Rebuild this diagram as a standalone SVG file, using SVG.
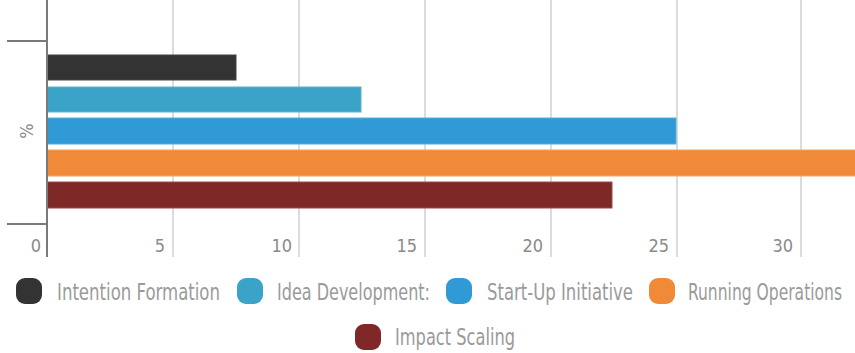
<svg xmlns="http://www.w3.org/2000/svg" width="855" height="353" viewBox="0 0 855 353">
<style>
.grid{stroke:#dcdcdc;stroke-width:2}
.axis{stroke:#7a7a7a;stroke-width:2}
.tick{font-family:"Liberation Sans Narrow","DejaVu Sans Condensed","Liberation Sans",sans-serif;font-size:18px;fill:#8a8a8a;text-anchor:end}
.leg{font-family:"Liberation Sans Narrow","DejaVu Sans Condensed","Liberation Sans",sans-serif;font-size:23px;fill:#9a9a9a}
.bar{stroke-width:1}
</style>
<rect width="855" height="353" fill="#ffffff"/>
<g id="grid">
<line class="grid" x1="173" y1="0" x2="173" y2="257"/>
<line class="grid" x1="299" y1="0" x2="299" y2="257"/>
<line class="grid" x1="425" y1="0" x2="425" y2="257"/>
<line class="grid" x1="551" y1="0" x2="551" y2="257"/>
<line class="grid" x1="677" y1="0" x2="677" y2="257"/>
<line class="grid" x1="801" y1="0" x2="801" y2="257"/>
</g>
<g id="bars">
<rect class="bar" x="47" y="55" width="189" height="25" fill="#333333" stroke="#444444"/>
<rect class="bar" x="47" y="87" width="314" height="25" fill="#3ba3c7" stroke="#5ab4d2"/>
<rect class="bar" x="47" y="118" width="629" height="26" fill="#2f9ad6" stroke="#56ade0"/>
<rect class="bar" x="47" y="150" width="810" height="26" fill="#f08a38" stroke="#f4a262"/>
<rect class="bar" x="47" y="182" width="565" height="26" fill="#7f2828" stroke="#9a4a4a"/>
</g>
<g id="axis">
<line class="axis" x1="47" y1="0" x2="47" y2="257"/>
<line class="axis" x1="7" y1="41" x2="47" y2="41"/>
<line class="axis" x1="7" y1="224" x2="47" y2="224"/>
<text x="26" y="131" transform="rotate(-90 26 131)" font-family="Liberation Sans Narrow, DejaVu Sans Condensed, Liberation Sans, sans-serif" font-size="18" fill="#8a8a8a" text-anchor="middle" dominant-baseline="central">%</text>
</g>
<g id="ticks">
<text class="tick" x="41" y="252">0</text>
<text class="tick" x="165" y="252">5</text>
<text class="tick" x="292" y="252">10</text>
<text class="tick" x="417" y="252">15</text>
<text class="tick" x="543" y="252">20</text>
<text class="tick" x="669" y="252">25</text>
<text class="tick" x="793" y="252">30</text>
</g>
<g id="legend">
<g id="leg-intention">
<rect x="16" y="278" width="26" height="26" rx="9" fill="#333333"/>
<text class="leg" x="57" y="300" textLength="163" lengthAdjust="spacingAndGlyphs">Intention Formation</text>
</g>
<g id="leg-idea">
<rect x="237" y="278" width="26" height="26" rx="9" fill="#3ba3c7"/>
<text class="leg" x="277" y="300" textLength="153" lengthAdjust="spacingAndGlyphs">Idea Development:</text>
</g>
<g id="leg-startup">
<rect x="446" y="278" width="26" height="26" rx="9" fill="#2f9ad6"/>
<text class="leg" x="487" y="300" textLength="146" lengthAdjust="spacingAndGlyphs">Start-Up Initiative</text>
</g>
<g id="leg-running">
<rect x="649" y="278" width="26" height="26" rx="9" fill="#f08a38"/>
<text class="leg" x="688" y="300" textLength="154" lengthAdjust="spacingAndGlyphs">Running Operations</text>
</g>
<g id="leg-impact">
<rect x="355" y="324" width="26" height="26" rx="9" fill="#7f2828"/>
<text class="leg" x="395" y="345" textLength="120" lengthAdjust="spacingAndGlyphs">Impact Scaling</text>
</g>
</g>
</svg>
